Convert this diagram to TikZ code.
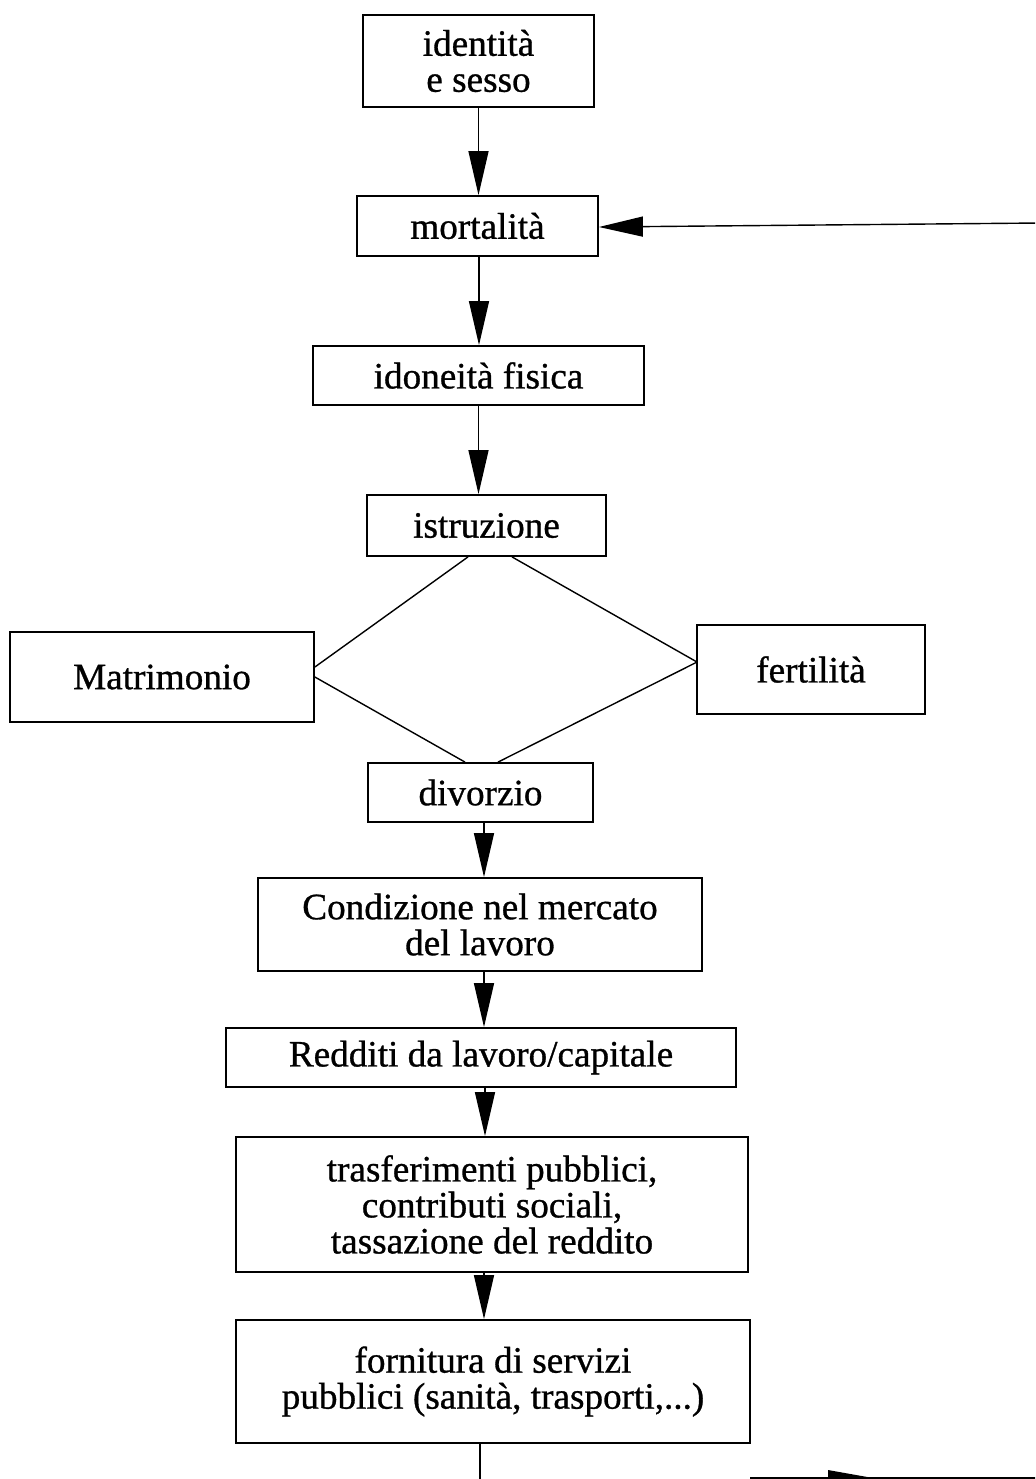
\documentclass[tikz,border=0pt]{standalone}
\usepackage{fontspec}
\setmainfont{Liberation Serif}
\newfontfamily\diagfont{Liberation Serif}[FakeBold=0.8]
\usetikzlibrary{arrows.meta}
\begin{document}
\begin{tikzpicture}[x=0.5pt,y=-0.5pt,
  box/.style={draw,line width=0.9pt,rectangle,inner sep=0pt,align=center,
    font=\diagfont\fontsize{18.6}{18}\selectfont},
  arr/.style={line width=0.7pt,-{Triangle[length=22pt,width=10pt]}},
  ln/.style={line width=0.7pt}]
\useasboundingbox (0,0) rectangle (1035,1479);
\clip (0,0) rectangle (1035,1479);
\node[box,minimum width=115.5pt,minimum height=46pt] (ids) at (478.5,61) {identità\\e sesso};
\node[box,minimum width=120.5pt,minimum height=30pt] (mort) at (477.5,226) {mortalità};
\node[box,minimum width=165.5pt,minimum height=29.5pt] (idon) at (478.5,375.5) {idoneità fisica};
\node[box,minimum width=119.5pt,minimum height=30.5pt] (istr) at (486.5,525.5) {istruzione};
\node[box,minimum width=152pt,minimum height=45pt] (matr) at (162,677) {Matrimonio};
\node[box,minimum width=114pt,minimum height=44.5pt] (fert) at (811,669.5) {fertilità};
\node[box,minimum width=112.5pt,minimum height=29.5pt] (div) at (480.5,792.5) {divorzio};
\node[box,minimum width=222pt,minimum height=46.5pt] (cond) at (480,924.5) {Condizione nel mercato\\del lavoro};
\node[box,minimum width=255pt,minimum height=29.5pt] (redd) at (481,1057.5) {Redditi da lavoro/capitale};
\node[box,minimum width=256pt,minimum height=67.5pt] (trasf) at (492,1204.5) {trasferimenti pubblici,\\contributi sociali,\\tassazione del reddito};
\node[box,minimum width=257pt,minimum height=61.5pt] (forn) at (493,1381.5) {fornitura di servizi\\pubblici (sanità, trasporti,...)};
% vertical arrows
\draw[arr] (ids.south) -- (ids.south |- mort.north);
\draw[arr] ([xshift=0.75pt]mort.south) -- ([xshift=0.75pt]mort.south |- idon.north);
\draw[arr] (idon.south) -- (idon.south |- istr.north);
\draw[arr] ([xshift=1.75pt]div.south) -- ([xshift=1.75pt]div.south |- cond.north);
\draw[arr] ([xshift=2pt]cond.south) -- ([xshift=2pt]cond.south |- redd.north);
\draw[arr] ([xshift=2pt]redd.south) -- ([xshift=2pt]redd.south |- trasf.north);
\draw[arr] ([xshift=-4pt]trasf.south) -- ([xshift=-4pt]trasf.south |- forn.north);
\coordinate (fb) at (480,1490);
\draw[ln] ([xshift=-6.5pt]forn.south) -- ([xshift=-6.5pt]forn.south |- fb);
% diamond
\draw[ln] ([xshift=-9.25pt]istr.south) -- ([yshift=5pt]matr.east);
\draw[ln] ([xshift=12.75pt]istr.south) -- ([yshift=4pt]fert.west);
\draw[ln] (matr.east) -- ([xshift=-7.75pt]div.north);
\draw[ln] ([yshift=3.5pt]fert.west) -- ([xshift=8.75pt]div.north);
% feedback top
\coordinate (topR) at (1040,223);
\draw[arr] (topR) -- ([yshift=-0.5pt]mort.east);
% bottom right arrow
\coordinate (botL) at (750,1478);
\coordinate (botR) at (1040,1478);
\draw[ln] (botL) -- (botR);
\fill (828,1470) -- (873,1478) -- (828,1486) -- cycle;
\end{tikzpicture}
\end{document}
